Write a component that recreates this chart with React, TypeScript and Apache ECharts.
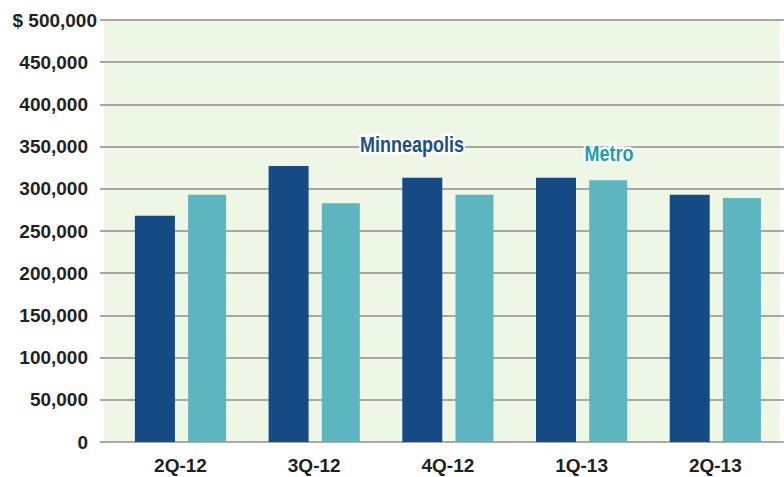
import React, { useEffect, useRef } from "react";
import * as echarts from "echarts";

const categories = ["2Q-12", "3Q-12", "4Q-12", "1Q-13", "2Q-13"];
const minneapolis = [268000, 327000, 313000, 313000, 293000];
const metro = [293000, 283000, 293000, 310000, 289000];
const seriesNames = ["Minneapolis", "Metro"];

const FONT = '"Liberation Sans", Arial, sans-serif';

export default function App() {
  const ref = useRef<HTMLDivElement>(null);
  useEffect(() => {
    if (!ref.current) return;
    const chart = echarts.init(ref.current, null, { renderer: "svg" });
    const fmt = (v: number) => {
      const s = v.toLocaleString("en-US");
      return v === 500000 ? "{top|$ " + s + "}" : "{n|" + s + "}";
    };
    chart.setOption({
      animation: false,
      backgroundColor: "#ffffff",
      graphic: [
        {
          type: "rect",
          z: -10,
          silent: true,
          shape: { x: 104, y: 20, width: 676, height: 422 },
          style: { fill: "#eef6e5" },
        },
        {
          type: "text",
          z: 10,
          x: 412,
          y: 144,
          scaleY: 1.25,
          style: {
            text: seriesNames[0],
            fill: "#1c4f8a",
            stroke: "#ffffff",
            lineWidth: 4,
            font: "bold 18px " + FONT,
            align: "center",
            verticalAlign: "middle",
          },
        },
        {
          type: "text",
          z: 10,
          x: 609,
          y: 153,
          scaleY: 1.25,
          style: {
            text: seriesNames[1],
            fill: "#1a9fae",
            stroke: "#ffffff",
            lineWidth: 4,
            font: "bold 18px " + FONT,
            align: "center",
            verticalAlign: "middle",
          },
        },
      ],
      grid: [
        { left: 100, right: 0, top: 20, bottom: 35, containLabel: false },
        { left: 113.65, width: 668.5, top: 20, bottom: 35, containLabel: false },
      ],
      xAxis: [
        { type: "category", gridIndex: 0, data: categories, show: false },
        {
          type: "category",
          gridIndex: 1,
          data: categories,
          axisLine: { show: false },
          axisTick: { show: false },
          axisLabel: {
            margin: 14,
            color: "#231f20",
            fontFamily: FONT,
            fontWeight: "bold",
            fontSize: 19,
          },
        },
      ],
      yAxis: [
        {
          type: "value",
          gridIndex: 0,
          min: 0,
          max: 500000,
          interval: 50000,
          axisLine: { show: false },
          axisTick: { show: false },
          splitLine: { lineStyle: { color: "#8e8e8e", width: 1.6 } },
          axisLabel: {
            margin: 3,
            formatter: fmt,
            rich: {
              top: { color: "#231f20", fontFamily: FONT, fontWeight: "bold", fontSize: 19 },
              n: { color: "#231f20", fontFamily: FONT, fontWeight: "bold", fontSize: 19, padding: [0, 9, 0, 0] },
            },
          },
        },
        { type: "value", gridIndex: 1, min: 0, max: 500000, show: false, splitLine: { show: false } },
      ],
      series: [
        {
          name: seriesNames[0],
          type: "bar",
          xAxisIndex: 1,
          yAxisIndex: 1,
          data: minneapolis,
          barWidth: 40,
          barGap: "33%",
          itemStyle: { color: "#154a84" },
        },
        {
          name: seriesNames[1],
          type: "bar",
          xAxisIndex: 1,
          yAxisIndex: 1,
          data: metro,
          barWidth: 38,
          barGap: "33%",
          itemStyle: { color: "#5db5c0" },
        },
      ],
    });
    return () => chart.dispose();
  }, []);
  return <div ref={ref} style={{ width: 784, height: 477, position: "absolute", left: 0, top: 0 }} />;
}
